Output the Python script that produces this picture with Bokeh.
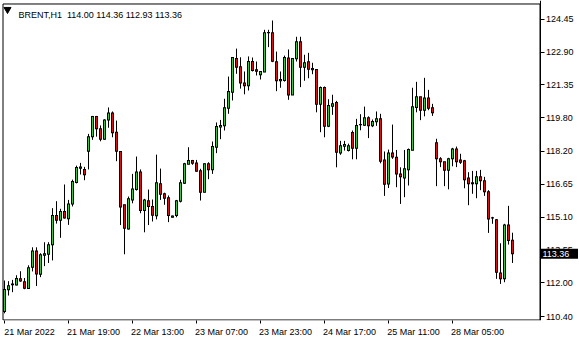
from bokeh.plotting import figure
from bokeh.models import Range1d, FixedTicker, Label, PrintfTickFormatter, LinearAxis
from bokeh.core.properties import value
from bokeh.embed import file_html
from bokeh.resources import INLINE

symbol = "BRENT,H1"

opens = [110.64, 111.66, 111.90, 111.89, 112.18, 112.04, 111.72, 112.73, 113.50, 112.40,
         113.29, 113.34, 113.79, 115.17, 114.95, 115.36, 115.02, 115.72, 116.73, 117.41,
         117.35, 118.21, 118.90, 119.85, 119.27, 118.78, 119.69, 120.02, 119.11, 118.20,
         115.68, 114.53, 115.91, 116.40, 117.23, 115.41, 115.87, 115.60, 115.16, 116.67,
         116.20, 116.01, 115.09, 115.17, 115.85, 116.70, 117.60, 117.77, 117.66, 117.29,
         116.27, 117.62, 117.33, 118.40, 119.35, 119.41, 120.24, 121.00, 122.59, 122.20,
         121.44, 121.30, 122.45, 122.06, 121.82, 121.95, 123.81, 123.81, 122.44, 121.54,
         121.55, 122.62, 120.87, 122.58, 123.38, 122.18, 122.44, 122.12, 122.07, 120.43,
         121.22, 119.39, 120.34, 120.51, 118.13, 118.45, 118.24, 119.09, 118.35, 119.47,
         119.44, 119.79, 119.41, 119.60, 119.74, 117.80, 116.66, 118.13, 117.93, 117.14,
         116.95, 117.33, 118.26, 120.28, 120.78, 120.15, 120.73, 120.26, 118.61, 117.85,
         117.71, 117.31, 117.85, 118.32, 117.80, 117.76, 116.95, 116.72, 116.67, 117.00,
         116.81, 116.29, 115.07, 114.97, 112.46, 112.18, 114.73, 114.00]

highs = [112.10, 112.07, 112.13, 112.35, 112.54, 112.22, 112.82, 113.67, 113.67, 113.39,
         113.91, 113.91, 115.52, 115.85, 115.49, 116.64, 115.91, 116.87, 117.53, 117.66,
         117.47, 119.03, 119.88, 119.88, 119.43, 119.72, 120.28, 120.09, 119.66, 118.20,
         115.68, 116.07, 117.14, 117.96, 117.35, 115.96, 116.40, 115.93, 118.05, 117.39,
         116.25, 116.12, 115.17, 115.91, 116.86, 117.66, 118.40, 117.80, 117.80, 117.38,
         117.64, 117.69, 118.67, 119.57, 119.69, 120.69, 121.74, 122.64, 123.06, 122.65,
         121.98, 122.69, 122.64, 122.45, 121.98, 123.95, 123.95, 124.39, 122.92, 121.98,
         122.73, 123.02, 122.61, 123.62, 123.62, 122.77, 122.86, 122.39, 122.07, 121.27,
         121.27, 120.67, 120.88, 120.59, 118.70, 118.70, 118.57, 119.19, 119.74, 119.96,
         120.32, 119.86, 119.71, 120.09, 119.98, 118.20, 118.29, 119.47, 118.27, 117.45,
         118.27, 118.34, 121.21, 121.49, 120.78, 121.68, 121.11, 120.45, 118.80, 117.93,
         117.71, 117.90, 118.37, 118.43, 118.09, 117.80, 117.22, 117.28, 117.28, 117.33,
         117.00, 116.37, 115.11, 115.00, 113.86, 114.78, 115.63, 114.36]

lows = [110.55, 111.39, 111.55, 111.87, 112.04, 111.69, 111.70, 112.53, 111.84, 112.26,
        112.78, 112.93, 113.05, 114.79, 114.12, 115.03, 114.73, 115.60, 116.69, 117.11,
        116.84, 117.35, 118.75, 118.90, 118.68, 118.76, 119.32, 118.87, 117.74, 114.72,
        113.34, 114.51, 115.75, 116.35, 115.28, 114.38, 114.72, 114.89, 114.99, 115.91,
        115.68, 114.86, 115.08, 115.09, 115.79, 116.67, 117.60, 117.57, 117.25, 115.88,
        116.27, 116.89, 117.14, 118.12, 118.78, 119.19, 119.98, 120.61, 121.87, 121.17,
        120.90, 121.08, 121.98, 121.79, 121.60, 121.95, 123.13, 122.42, 121.05, 121.21,
        121.50, 120.64, 120.87, 122.45, 121.24, 121.54, 121.66, 121.85, 120.05, 119.11,
        118.87, 119.35, 119.93, 117.45, 118.04, 118.24, 118.20, 117.83, 117.83, 119.20,
        119.41, 118.83, 119.35, 119.41, 117.64, 116.10, 116.47, 117.85, 116.51, 115.72,
        116.04, 116.59, 118.26, 120.05, 119.68, 119.86, 120.15, 119.88, 116.56, 117.46,
        116.56, 116.41, 117.50, 117.46, 117.61, 116.46, 115.66, 116.20, 115.99, 116.37,
        116.10, 114.35, 114.78, 112.18, 111.94, 112.02, 113.80, 112.93]

closes = [111.68, 111.85, 111.94, 112.19, 112.08, 111.73, 112.70, 113.50, 112.41, 113.32,
          113.36, 113.79, 115.17, 114.95, 115.36, 115.06, 115.72, 116.78, 117.44, 117.47,
          117.10, 118.90, 119.85, 119.27, 118.78, 119.69, 120.02, 119.08, 118.21, 115.58,
          114.57, 115.96, 116.43, 117.23, 115.41, 115.91, 115.60, 115.19, 116.72, 116.18,
          115.99, 115.17, 115.15, 115.87, 116.72, 117.62, 117.77, 117.64, 117.27, 116.27,
          117.62, 117.33, 118.43, 119.38, 119.43, 120.26, 121.03, 122.64, 122.18, 121.44,
          121.30, 122.45, 122.03, 121.99, 121.98, 123.81, 123.82, 122.46, 121.54, 121.60,
          122.64, 120.87, 122.59, 123.38, 122.18, 122.39, 122.09, 122.06, 120.43, 121.22,
          119.39, 120.37, 120.46, 118.16, 118.47, 118.53, 118.47, 118.35, 119.43, 119.46,
          119.79, 119.41, 119.61, 119.74, 117.74, 116.65, 118.13, 117.94, 117.14, 117.00,
          117.38, 118.29, 120.31, 120.78, 120.15, 120.73, 120.24, 120.03, 117.85, 117.71,
          117.31, 117.85, 118.32, 117.71, 117.69, 116.86, 116.67, 116.67, 117.00, 116.81,
          116.29, 115.01, 115.06, 112.49, 112.18, 114.73, 113.99, 113.36]

x_tick_bars = [0, 16, 32, 48, 64, 80, 96, 112]
x_tick_labels = ["21 Mar 2022", "21 Mar 19:00", "22 Mar 13:00", "23 Mar 07:00",
                 "23 Mar 23:00", "24 Mar 17:00", "25 Mar 11:00", "28 Mar 05:00"]
y_ticks = [124.45, 122.90, 121.35, 119.80, 118.20, 116.65, 115.10, 113.55, 112.00, 110.40]

GREEN = "#32cd32"
RED = "#e01010"
FONT = "Liberation Sans"
FS = "9px"

# view ranges (frame covers the whole canvas except the bottom time-axis strip)
XL, XR = -1.0, 144.0
YB, YT = 110.211, 125.334
FRAME_H = 320
HALF_PX = 0.5 * (YT - YB) / FRAME_H
# chart box edges (data units)
BOX_L, BOX_R, BOX_B, BOX_T = -0.375, 133.875, 110.235, 125.169
LABEL_SHIFT = 6.25

n = len(opens)
idx = list(range(n))
up = [c >= o for o, c in zip(opens, closes)]
tops = [max(o, c) for o, c in zip(opens, closes)]
bots = [min(o, c) for o, c in zip(opens, closes)]

p = figure(width=580, height=340, x_range=Range1d(XL, XR), y_range=Range1d(YB, YT),
           x_axis_location=None, y_axis_location="right",
           output_backend="svg", toolbar_location=None,
           min_border_left=0, min_border_right=0, min_border_top=0, min_border_bottom=20)
p.background_fill_color = "white"
p.border_fill_color = "white"
p.outline_line_color = None
p.grid.visible = False

# chart box
p.quad(left=[BOX_L], right=[BOX_R], bottom=[BOX_B], top=[BOX_T],
       fill_color=None, line_color="black", line_width=1)

# candles: wick, black body frame, coloured body interior
p.segment(x0=idx, y0=lows, x1=idx, y1=highs, color="black", line_width=1)
p.vbar(x=idx, width=0.75, top=[t + HALF_PX for t in tops], bottom=[b - HALF_PX for b in bots],
       fill_color="black", line_color=None)
inner = [i for i in idx if tops[i] - bots[i] > 2 * HALF_PX]
p.vbar(x=inner, width=0.25,
       top=[tops[i] - HALF_PX for i in inner], bottom=[bots[i] + HALF_PX for i in inner],
       fill_color=[GREEN if up[i] else RED for i in inner], line_color=None)

# price axis (right edge of chart box)
ya = p.yaxis[0]
ya.fixed_location = BOX_R
ya.ticker = FixedTicker(ticks=y_ticks)
ya.formatter = PrintfTickFormatter(format="%.2f")
ya.major_tick_out = 4
ya.major_tick_in = 0
ya.minor_tick_out = 0
ya.minor_tick_in = 0
ya.axis_line_color = "black"
ya.major_tick_line_color = "black"
ya.major_label_text_font = FONT
ya.major_label_text_font_size = FS
ya.major_label_text_color = "black"
ya.major_label_standoff = 2

# time axis: ticks at bars (minor), labels left-aligned to ticks (major, shifted)
p.extra_x_ranges = {"lab": Range1d(XL - LABEL_SHIFT, XR - LABEL_SHIFT)}
xa = LinearAxis(x_range_name="lab",
                ticker=FixedTicker(ticks=x_tick_bars,
                                   minor_ticks=[b - LABEL_SHIFT for b in x_tick_bars]))
xa.major_label_overrides = {b: lab for b, lab in zip(x_tick_bars, x_tick_labels)}
xa.major_tick_out = 0
xa.major_tick_in = 0
xa.minor_tick_out = 3
xa.minor_tick_in = 0
xa.minor_tick_line_color = "black"
xa.axis_line_color = None
xa.major_label_standoff = 3
xa.major_label_text_font = FONT
xa.major_label_text_font_size = FS
xa.major_label_text_color = "black"
p.add_layout(xa, "below")

# header
p.scatter(x=[0.75], y=[124.91], marker="inverted_triangle", size=7,
          fill_color="black", line_color="black")
header = "%s\u00a0\u00a0%.2f %.2f %.2f %.2f" % (symbol, opens[-1], highs[-1], lows[-1], closes[-1])
p.add_layout(Label(x=3.5, y=124.67, text=header, text_align="left",
                   text_baseline="alphabetic", text_font=FONT, text_font_size=FS,
                   text_color="black"))

# current price box on the price axis
p.rect(x=[138.75], y=[closes[-1]], width=37, height=10,
       width_units="screen", height_units="screen",
       fill_color="black", line_color=None, level="overlay")
p.text(x=[134.5], y=[closes[-1]], text=["%.2f" % closes[-1]],
       text_color="white", text_font=value(FONT), text_font_size=FS,
       text_baseline="middle", text_align="left", level="overlay")

open("out.html", "w").write(file_html(p, INLINE))
